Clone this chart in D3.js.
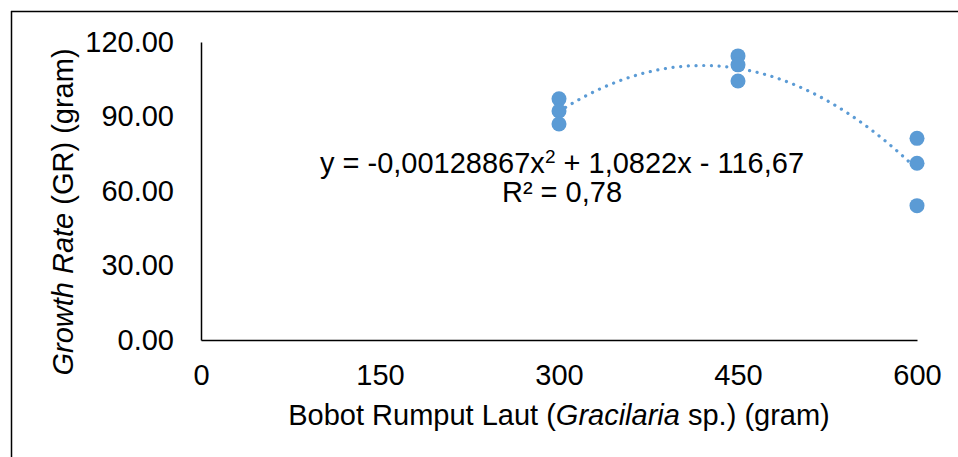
<!DOCTYPE html>
<html>
<head>
<meta charset="utf-8">
<script src="https://cdn.jsdelivr.net/npm/d3@7"></script>
<style>
  body { margin: 0; background: #fff; }
  svg text { font-family: "Liberation Sans", Arial, sans-serif; fill: #000; }
</style>
</head>
<body>
<div id="chart"></div>
<script>
// data
var weights = [300, 300, 300, 450, 450, 450, 600, 600, 600];
var growth = [97.1, 92.2, 87.0, 114.4, 110.8, 104.3, 81.2, 71.2, 54.1];
var xTicks = [0, 150, 300, 450, 600];
var yTicks = [0, 30, 60, 90, 120];
// trendline y = a*x^2 + b*x + c as printed on the chart
var trendCoef = [-0.00128867, 1.0822, -116.67];
var trendRange = [300, 600];

var svgWidth = 958;
var svgHeight = 457;
var fontSize = 29;

var svg = d3.select("#chart").append("svg")
    .attr("width", svgWidth)
    .attr("height", svgHeight);

// outer frame lines (top and left)
svg.append("line")
    .attr("x1", 11).attr("x2", svgWidth)
    .attr("y1", 11.5).attr("y2", 11.5)
    .attr("stroke", "#000").attr("stroke-width", 1.5);
svg.append("line")
    .attr("x1", 11.5).attr("x2", 11.5)
    .attr("y1", 11).attr("y2", svgHeight)
    .attr("stroke", "#000").attr("stroke-width", 1.5);

var xScale = d3.scaleLinear().domain([0, 600]).range([201, 917]);
var yScale = d3.scaleLinear().domain([0, 120]).range([340, 42]);

// y axis
var leftAxis = d3.axisLeft(yScale)
    .tickValues(yTicks)
    .tickSize(0)
    .tickPadding(27)
    .tickFormat(d3.format(".2f"));
var gy = svg.append("g")
    .attr("transform", "translate(" + xScale(0) + ",0)")
    .call(leftAxis);
gy.select(".domain").attr("stroke", "#000").attr("stroke-width", 1.5);
gy.selectAll("text").attr("font-size", fontSize).attr("font-family", "Liberation Sans, Arial, sans-serif");

// x axis
var bottomAxis = d3.axisBottom(xScale)
    .tickValues(xTicks)
    .tickSize(0)
    .tickPadding(24);
var gx = svg.append("g")
    .attr("transform", "translate(0," + yScale(0) + ")")
    .call(bottomAxis);
gx.select(".domain").attr("stroke", "#000").attr("stroke-width", 1.5);
gx.selectAll("text").attr("font-size", fontSize).attr("font-family", "Liberation Sans, Arial, sans-serif");

// trendline (dotted)
var trendX = d3.range(trendRange[0], trendRange[1] + 1, 5);
var line = d3.line()
    .x(d => xScale(d))
    .y(d => yScale(trendCoef[0] * d * d + trendCoef[1] * d + trendCoef[2]))
    .curve(d3.curveMonotoneX);
svg.append("path")
    .datum(trendX)
    .attr("d", line)
    .attr("fill", "none")
    .attr("stroke", "#5b9bd5")
    .attr("stroke-width", 3.2)
    .attr("stroke-linecap", "round")
    .attr("stroke-dasharray", "0.1 7.6");

// points
svg.selectAll("circle.pt")
    .data(weights)
    .enter()
    .append("circle")
    .attr("class", "pt")
    .attr("cx", d => xScale(d))
    .attr("cy", (d, i) => yScale(growth[i]))
    .attr("r", 7.5)
    .attr("fill", "#5b9bd5");

// equation label
var eq = svg.append("text")
    .attr("x", 562)
    .attr("y", 173)
    .attr("text-anchor", "middle")
    .attr("font-size", fontSize);
eq.append("tspan").text("y = -0,00128867x");
eq.append("tspan").attr("font-size", 19).attr("dy", -10).text("2");
eq.append("tspan").attr("dy", 10).text(" + 1,0822x - 116,67");

svg.append("text")
    .attr("x", 562)
    .attr("y", 202)
    .attr("text-anchor", "middle")
    .attr("font-size", fontSize)
    .text("R² = 0,78");

// axis titles
var xt = svg.append("text")
    .attr("x", 559)
    .attr("y", 425)
    .attr("text-anchor", "middle")
    .attr("font-size", fontSize);
xt.append("tspan").text("Bobot Rumput Laut (");
xt.append("tspan").attr("font-style", "italic").text("Gracilaria");
xt.append("tspan").text(" sp.) (gram)");

var yt = svg.append("text")
    .attr("transform", "translate(73, 212) rotate(-90)")
    .attr("text-anchor", "middle")
    .attr("font-size", fontSize);
yt.append("tspan").attr("font-style", "italic").text("Growth Rate");
yt.append("tspan").text(" (GR) (gram)");
</script>
</body>
</html>
